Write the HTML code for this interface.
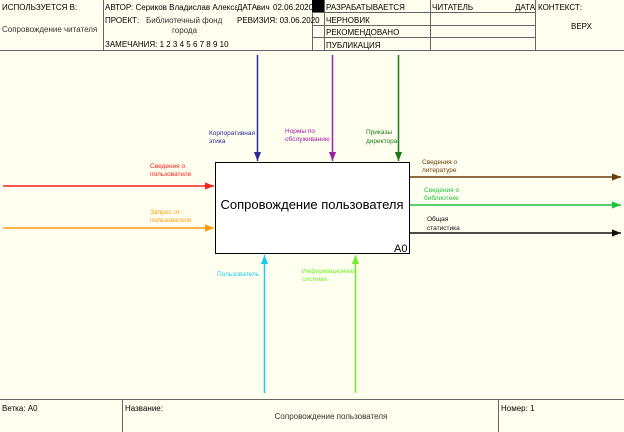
<!DOCTYPE html>
<html><head><meta charset="utf-8"><style>
html,body{margin:0;padding:0;background:#fffff0;}
svg{display:block;font-family:"Liberation Sans","DejaVu Sans",sans-serif;}
</style></head><body>
<svg width="624" height="432" viewBox="0 0 624 432" xmlns="http://www.w3.org/2000/svg">
<defs>
<marker id="a" viewBox="0 0 10 10" refX="10" refY="5" markerWidth="6" markerHeight="6" orient="auto"><path d="M0,1 L10,5 L0,9 z" fill="context-stroke"/></marker>
</defs>
<rect width="624" height="432" fill="#fffff0"/>
<g stroke="#666" stroke-width="1" fill="none">
<line x1="0" y1="50.5" x2="624" y2="50.5"/>
<line x1="103.5" y1="0" x2="103.5" y2="50"/>
<line x1="312.5" y1="0" x2="312.5" y2="50"/>
<line x1="324.5" y1="0" x2="324.5" y2="50"/>
<line x1="430.5" y1="0" x2="430.5" y2="50"/>
<line x1="535.5" y1="0" x2="535.5" y2="50"/>
<line x1="312" y1="12.5" x2="535" y2="12.5"/>
<line x1="312" y1="25.5" x2="535" y2="25.5"/>
<line x1="312" y1="37.5" x2="535" y2="37.5"/>
</g>
<rect x="312" y="0" width="12" height="12" fill="#000"/>
<g font-size="8" fill="#000">
<text x="2" y="10">ИСПОЛЬЗУЕТСЯ В:</text>
<text x="2" y="32" fill="#333">Сопровождение читателя</text>
<text x="105" y="10">АВТОР: Сериков Владислав Александрович</text>
<rect x="237" y="2" width="20" height="10" fill="#fffff0"/>
<text x="237" y="10">ДАТА:</text>
<text x="273" y="10">02.06.2020</text>
<text x="105" y="23">ПРОЕКТ:</text>
<text x="146" y="23" fill="#333">Библиотечный фонд</text>
<text x="172" y="33" fill="#333">города</text>
<text x="237" y="23">РЕВИЗИЯ: 03.06.2020</text>
<text x="105" y="47">ЗАМЕЧАНИЯ: 1 2 3 4 5 6 7 8 9 10</text>
<text x="326" y="10">РАЗРАБАТЫВАЕТСЯ</text>
<text x="326" y="23">ЧЕРНОВИК</text>
<text x="326" y="35">РЕКОМЕНДОВАНО</text>
<text x="326" y="48">ПУБЛИКАЦИЯ</text>
<text x="432" y="10">ЧИТАТЕЛЬ</text>
<text x="515" y="10">ДАТА</text>
<text x="538" y="10">КОНТЕКСТ:</text>
<text x="571" y="29">ВЕРХ</text>
</g>
<rect x="215.5" y="162.5" width="194" height="91" fill="#fff" stroke="#000" stroke-width="1"/>
<text x="312" y="209" font-size="13" text-anchor="middle">Сопровождение пользователя</text>
<text x="394" y="252" font-size="11">A0</text>
<g stroke-width="1.5" fill="none">
<line x1="257.5" y1="55" x2="257.5" y2="161" stroke="#2a2a9a" marker-end="url(#a)"/>
<line x1="332.5" y1="55" x2="332.5" y2="161" stroke="#a020a0" marker-end="url(#a)"/>
<line x1="398.5" y1="55" x2="398.5" y2="161" stroke="#1a7a1a" marker-end="url(#a)"/>
<line x1="3" y1="186" x2="214" y2="186" stroke="#ff2020" marker-end="url(#a)"/>
<line x1="3" y1="228" x2="214" y2="228" stroke="#ff9a10" marker-end="url(#a)"/>
<line x1="410" y1="177" x2="621" y2="177" stroke="#6a3a10" marker-end="url(#a)"/>
<line x1="410" y1="205" x2="621" y2="205" stroke="#20c040" marker-end="url(#a)"/>
<line x1="410" y1="233" x2="621" y2="233" stroke="#111" marker-end="url(#a)"/>
<line x1="264.5" y1="393" x2="264.5" y2="255" stroke="#20ccee" marker-end="url(#a)"/>
<line x1="355.5" y1="393" x2="355.5" y2="255" stroke="#70ee30" marker-end="url(#a)"/>
</g>
<g font-size="6.5">
<text x="209" y="135" fill="#2a2a9a">Корпоративная</text><text x="209" y="143" fill="#2a2a9a">этика</text>
<text x="285" y="133" fill="#a020a0">Нормы по</text><text x="285" y="141" fill="#a020a0">обслуживанию</text>
<text x="366" y="134" fill="#1a7a1a">Приказы</text><text x="366" y="143" fill="#1a7a1a">директора</text>
<text x="150" y="168" fill="#ff2020">Сведения о</text><text x="150" y="176" fill="#ff2020">пользователе</text>
<text x="150" y="214" fill="#ff9a10">Запрос от</text><text x="150" y="222" fill="#ff9a10">пользователя</text>
<text x="422" y="164" fill="#6a3a10">Сведения о</text><text x="422" y="172" fill="#6a3a10">литературе</text>
<text x="424" y="192" fill="#20c040">Сведения о</text><text x="424" y="200" fill="#20c040">библиотеке</text>
<text x="427" y="221" fill="#111">Общая</text><text x="427" y="230" fill="#111">статистика</text>
<text x="217" y="276" fill="#20ccee">Пользователь</text>
<text x="302" y="273" fill="#70ee30">Информационная</text><text x="302" y="281" fill="#70ee30">система</text>
</g>
<g stroke="#666" stroke-width="1">
<line x1="0" y1="399.5" x2="624" y2="399.5"/>
<line x1="122.5" y1="399" x2="122.5" y2="432"/>
<line x1="498.5" y1="399" x2="498.5" y2="432"/>
</g>
<g font-size="8">
<text x="2" y="411">Ветка: A0</text>
<text x="125" y="411">Название:</text>
<text x="331" y="419" text-anchor="middle" fill="#333">Сопровождение пользователя</text>
<text x="501" y="411">Номер: 1</text>
</g>
</svg>
</body></html>
